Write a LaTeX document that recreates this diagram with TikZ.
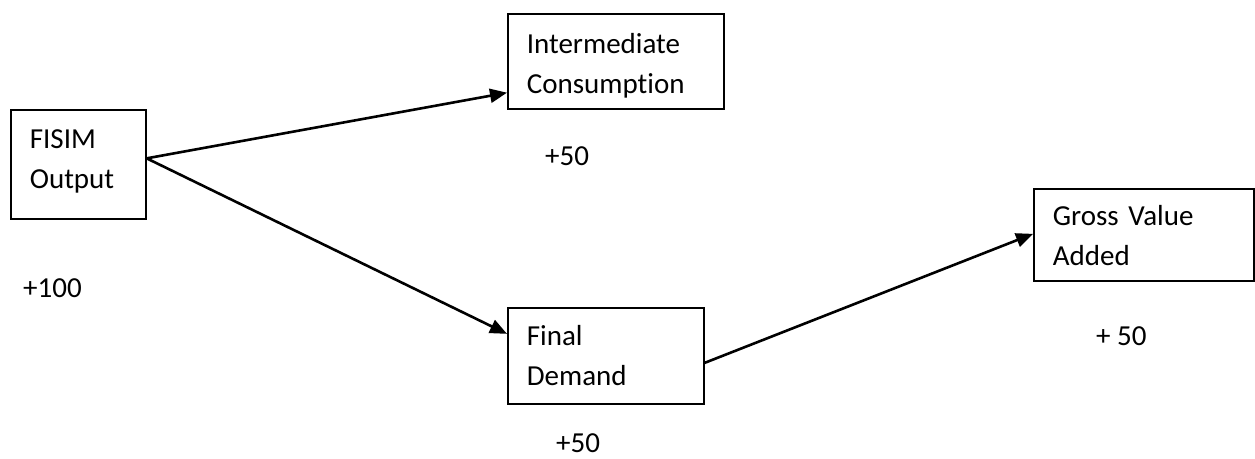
\documentclass[tikz,border=0pt]{standalone}
\usepackage{fontspec}
\setmainfont{Carlito}[Ligatures=NoCommon]
\usetikzlibrary{arrows.meta}
\begin{document}
\begin{tikzpicture}[x=1pt,y=-1pt,
  box/.style={draw, line width=1.7pt, anchor=north west, align=left,
    inner xsep=19pt, inner ysep=0pt,
    font=\fontsize{29}{40}\selectfont},
  val/.style={anchor=base west, inner sep=0pt, font=\fontsize{29}{40}\selectfont},
  arr/.style={line width=2.6pt, -{Triangle[length=17pt,width=14pt]}}]
\useasboundingbox (0,0) rectangle (1255,458);
\node[box, text width=97pt, text height=39pt, text depth=70pt] (fisim) at (10,109) {FISIM\\Output};
\node[box, text width=178pt, text height=40pt, text depth=55pt] (ic) at (507,13) {Intermediate\\Consumption};
\node[box, text width=158pt, text height=38pt, text depth=58pt] (fd) at (507,307) {Final\\Demand};
\node[box, text width=182pt, text height=37pt, text depth=55pt] (gr) at (1033,188) {Gross Value\\Added};
\node[val] (v1) at (23,297) {+100};
\node[val] (v2) at (545,165) {+50};
\node[val] (v3) at (556,452) {+50};
\node[val] (v4) at (1096,345) {+ 50};
\coordinate (fs) at ([yshift=6pt]fisim.east);
\draw[arr] (fs) -- ([yshift=17pt]ic.south west);
\draw[arr] (fs) -- ([yshift=22pt]fd.west);
\draw[arr] ([yshift=-7pt]fd.east) -- ([yshift=1pt]gr.west);
\end{tikzpicture}
\end{document}
